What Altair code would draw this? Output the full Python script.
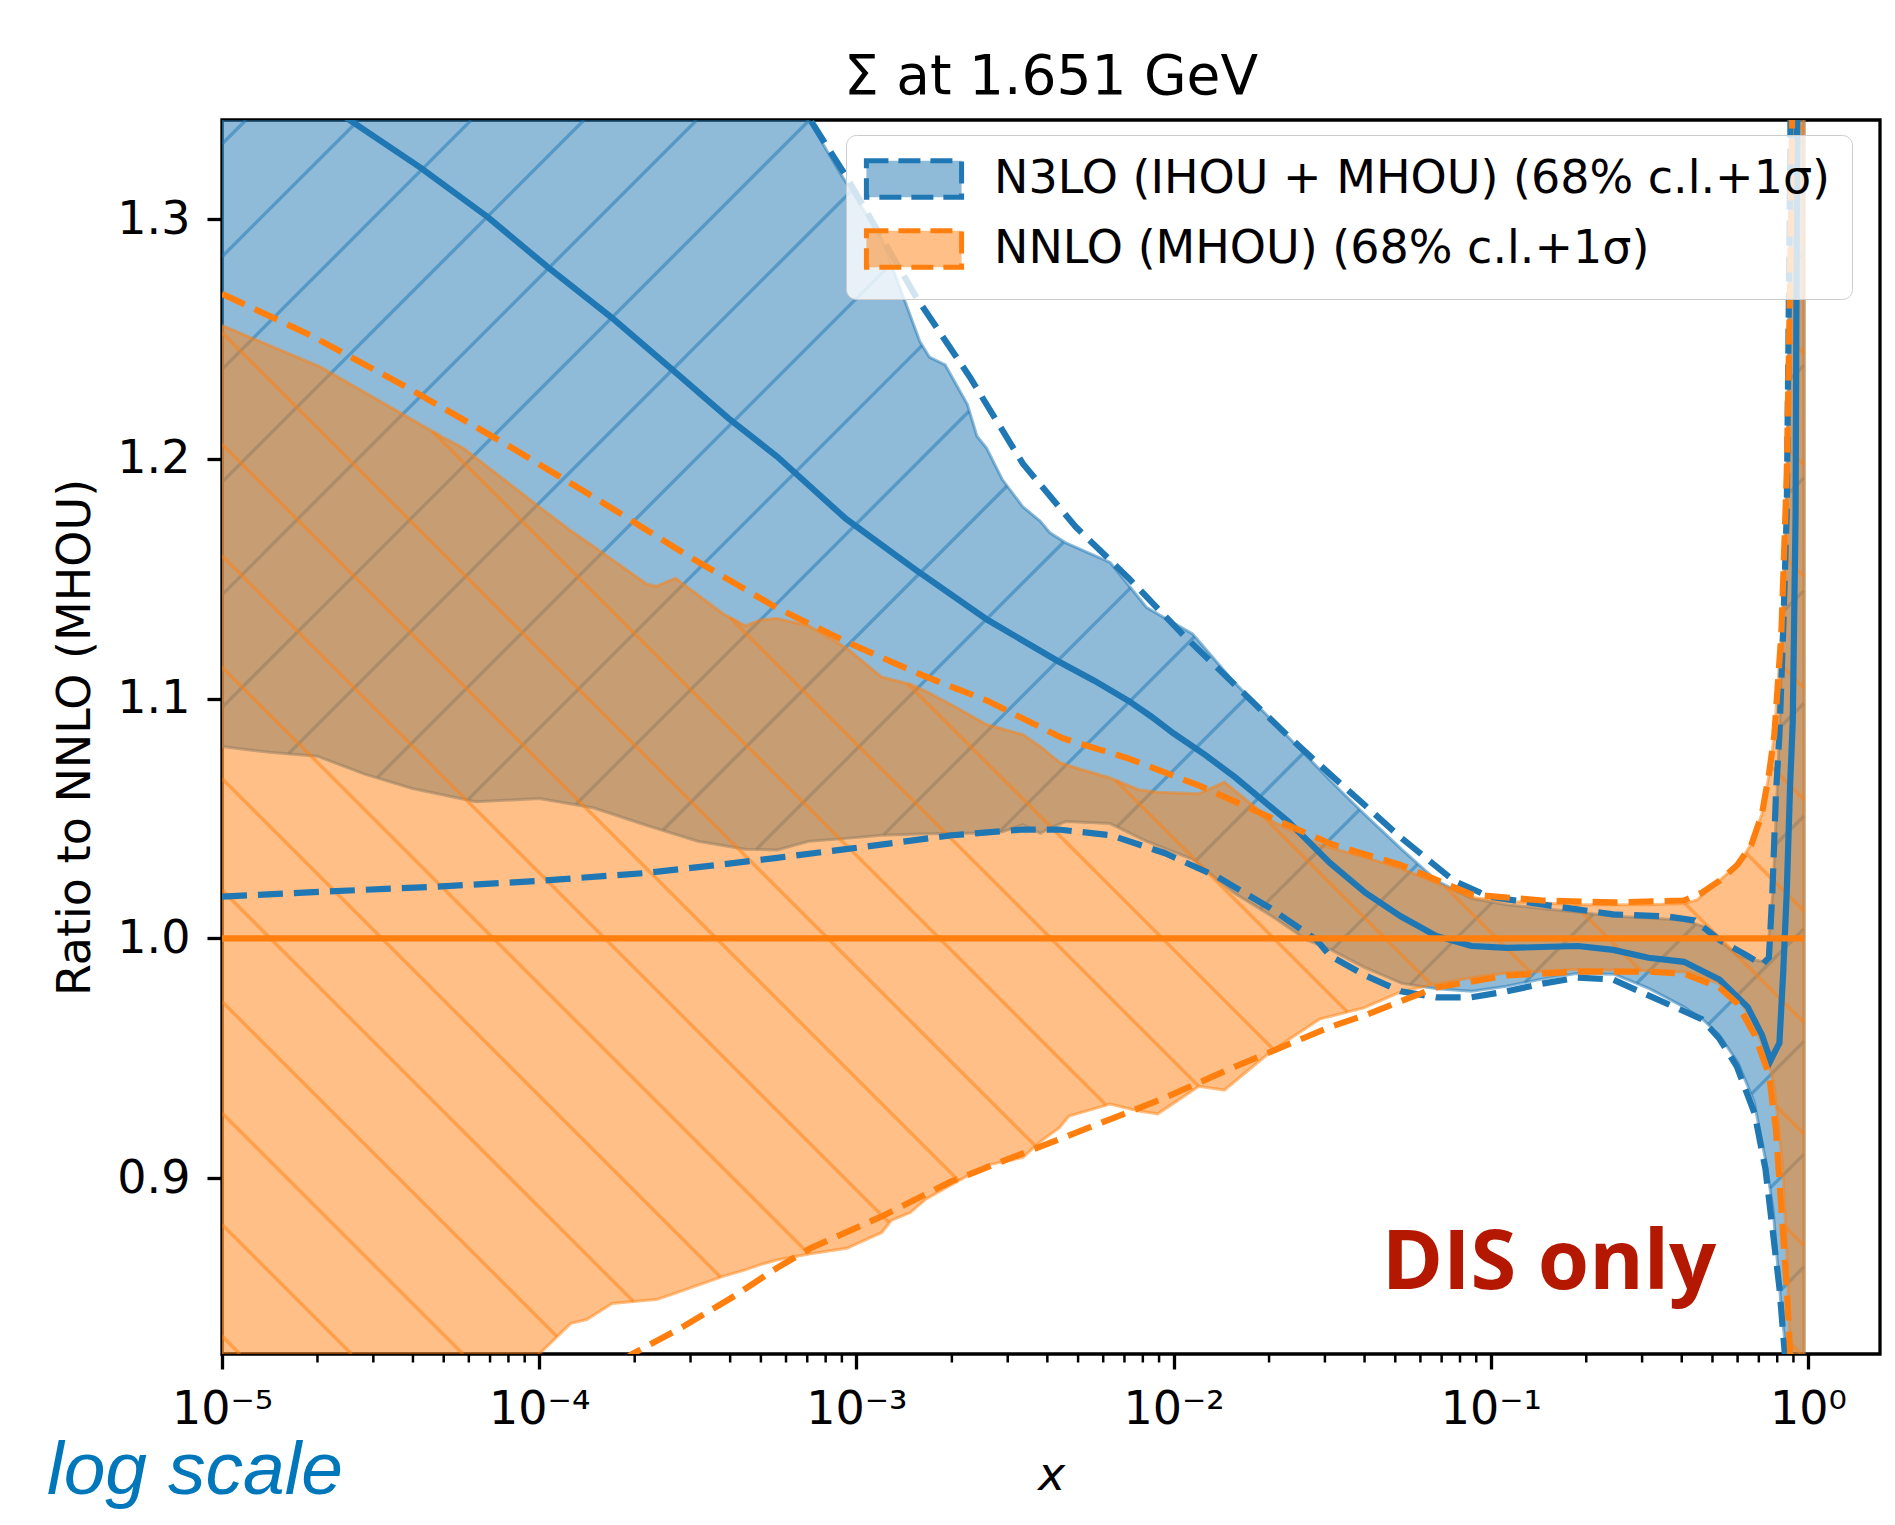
import numpy as np
import pandas as pd
import altair as alt

# ---------------- layout / axes ----------------
W, H = 1658, 1234
X_DOMAIN = [1e-5, 1.687]
Y_DOMAIN = [0.8266, 1.3414]

TITLE = "Σ at 1.651 GeV"
N3LO = "N3LO (IHOU + MHOU) (68% c.l.+1σ)"
NNLO = "NNLO (MHOU) (68% c.l.+1σ)"
BLUE = "#1f77b4"
ORANGE = "#ff7f0e"
BLUE_HALF = "rgba(31,119,180,0.5)"
ORANGE_HALF = "rgba(255,127,14,0.5)"

X_TICKS = [1e-5, 1e-4, 1e-3, 1e-2, 1e-1, 1.0]
X_TICK_LABELS = ["10⁻⁵", "10⁻⁴", "10⁻³", "10⁻²", "10⁻¹", "10⁰"]
Y_TICKS = [0.9, 1.0, 1.1, 1.2, 1.3]
MINOR_TICKS = [m * 10.0 ** e for e in range(-5, 0) for m in range(2, 10)]

# ---------------- data (x given as log10 x) ----------------
# N3LO band (68% c.l.) : log10 x, lower, upper
N3LO_LX = [-5.00, -4.85, -4.70, -4.55, -4.40, -4.20, -4.00, -3.83, -3.66, -3.50,
           -3.35, -3.25, -3.15, -3.05, -2.92, -2.80, -2.77, -2.72, -2.65, -2.62,
           -2.59, -2.54, -2.475, -2.42, -2.39, -2.34, -2.20, -2.085, -1.94, -1.81,
           -1.69, -1.58, -1.50, -1.40, -1.28, -1.17, -1.06, -0.95, -0.84, -0.73,
           -0.61, -0.50, -0.39, -0.33, -0.28, -0.22, -0.17, -0.13, -0.11, -0.09,
           -0.08, -0.065, -0.056, -0.045, -0.012]
N3LO_LO = [1.080, 1.0776, 1.0760, 1.0685, 1.0625, 1.0570, 1.0583, 1.0545, 1.0471, 1.0405,
           1.0372, 1.0369, 1.0405, 1.0415, 1.0430, 1.0435, 1.0436, 1.0437, 1.0438, 1.0438,
           1.0438, 1.0445, 1.0474, 1.0438, 1.0460, 1.0487, 1.0479, 1.0405, 1.0330, 1.0190,
           1.0092, 0.9993, 0.9950, 0.9880, 0.9812, 0.9790, 0.9779, 0.9800, 0.9830, 0.9853,
           0.9850, 0.9790, 0.9713, 0.9660, 0.9597, 0.9480, 0.9320, 0.9050, 0.8870, 0.8550,
           0.8400, 0.8250, 0.8000, 0.7000, 0.7000]
N3LO_HI = [1.62, 1.59, 1.56, 1.53, 1.50, 1.47, 1.44, 1.41, 1.39, 1.37,
           1.355, 1.347, 1.3414, 1.319, 1.292, 1.249, 1.2425, 1.2392, 1.2227, 1.2095,
           1.2046, 1.1914, 1.1800, 1.1740, 1.1692, 1.1650, 1.1568, 1.1380, 1.1270, 1.1070,
           1.0910, 1.0760, 1.0650, 1.0520, 1.0370, 1.0240, 1.0166, 1.0140, 1.0125, 1.0110,
           1.0092, 1.0085, 1.0075, 1.0050, 0.9993, 0.9927, 0.9910, 0.9900, 1.0200, 1.0850,
           1.1300, 1.2000, 1.3300, 1.5000, 1.5000]

# NNLO band (68% c.l.)
NNLO_LX = [-5.00, -4.69, -4.31, -4.24, -4.00, -3.90, -3.85, -3.77, -3.66, -3.63,
           -3.57, -3.42, -3.35, -3.30, -3.25, -3.15, -3.03, -2.92, -2.89, -2.83,
           -2.78, -2.68, -2.59, -2.475, -2.42, -2.36, -2.33, -2.20, -2.11, -2.05,
           -1.92, -1.84, -1.69, -1.54, -1.40, -1.28, -1.17, -1.06, -0.95, -0.73,
           -0.50, -0.39, -0.35, -0.28, -0.22, -0.18, -0.145, -0.123, -0.106, -0.090,
           -0.080, -0.067, -0.056, -0.050, -0.040, -0.012]
NNLO_LO = [0.700, 0.730, 0.770, 0.780, 0.8266, 0.8394, 0.8410, 0.8477, 0.8490, 0.8493,
           0.8520, 0.8590, 0.8617, 0.8640, 0.8658, 0.8683, 0.8707, 0.8773, 0.8823, 0.8856,
           0.8913, 0.8987, 0.9053, 0.9086, 0.9152, 0.9210, 0.9259, 0.9309, 0.9280, 0.9268,
           0.9383, 0.9367, 0.9531, 0.9663, 0.9710, 0.9779, 0.9810, 0.9836, 0.9855, 0.9870,
           0.9865, 0.9860, 0.9850, 0.9810, 0.9760, 0.9660, 0.9560, 0.9480, 0.9380, 0.9180,
           0.9050, 0.8700, 0.8266, 0.8000, 0.7000, 0.7000]
NNLO_HI = [1.2557, 1.2384, 1.2095, 1.2046, 1.1800, 1.1700, 1.1655, 1.1580, 1.1477, 1.1469,
           1.1502, 1.1354, 1.1304, 1.1329, 1.1334, 1.1304, 1.1210, 1.1090, 1.1080, 1.1060,
           1.1030, 1.0960, 1.0892, 1.0850, 1.0800, 1.0735, 1.0720, 1.0669, 1.0620, 1.0610,
           1.0603, 1.0652, 1.0490, 1.0390, 1.0340, 1.0290, 1.0230, 1.0170, 1.0155, 1.0140,
           1.0140, 1.0145, 1.0160, 1.0240, 1.0310, 1.0390, 1.0520, 1.0680, 1.0850, 1.1150,
           1.1350, 1.1900, 1.2700, 1.3400, 1.4500, 1.4500]

# N3LO central value
N3LO_C_LX = [-5.0, -4.598, -4.375, -4.163, -3.973, -3.772, -3.583, -3.404, -3.25, -3.033,
             -2.81, -2.587, -2.364, -2.25, -2.141, -2.07, -2.0, -1.9, -1.806, -1.638,
             -1.507, -1.395, -1.284, -1.172, -1.061, -0.949, -0.726, -0.614, -0.503, -0.391,
             -0.279, -0.19, -0.145, -0.118, -0.09, -0.078, -0.067, -0.056, -0.048, -0.039,
             -0.034, -0.030]
N3LO_C = [1.377, 1.3414, 1.3216, 1.301, 1.280, 1.259, 1.2376, 1.217, 1.201, 1.175,
          1.1535, 1.1329, 1.1156, 1.1075, 1.0990, 1.0925, 1.0855, 1.0765, 1.0672, 1.0487,
          1.0315, 1.019, 1.0092, 1.001, 0.9968, 0.996, 0.9968, 0.9952, 0.9919, 0.9902,
          0.9828, 0.9713, 0.9597, 0.949, 0.9564, 0.986, 1.019, 1.065, 1.09, 1.177,
          1.341, 1.42]

# N3LO 1-sigma (dashed)
N3LO_UP_LX = [-5.0, -4.5, -4.0, -3.5, -3.145, -3.033, -2.81, -2.643, -2.475, -2.308,
              -2.141, -1.973, -1.806, -1.638, -1.507, -1.395, -1.284, -1.116, -1.005, -0.837,
              -0.614, -0.447, -0.357, -0.279, -0.19, -0.145, -0.123, -0.112, -0.101, -0.09,
              -0.0785, -0.067, -0.062, -0.056, -0.05]
N3LO_UP = [1.70, 1.60, 1.50, 1.40, 1.3414, 1.318, 1.2672, 1.2343, 1.198, 1.1716,
           1.1502, 1.127, 1.1057, 1.0843, 1.0685, 1.0553, 1.0421, 1.024, 1.0174, 1.0141,
           1.010, 1.0092, 1.0075, 0.9993, 0.9927, 0.989, 0.992, 1.02, 1.06, 1.085,
           1.127, 1.177, 1.243, 1.325, 1.45]
N3LO_DN_LX = [-5.0, -4.665, -4.33, -3.996, -3.661, -3.438, -3.25, -3.033, -2.699, -2.475,
              -2.364, -2.197, -2.029, -1.862, -1.694, -1.549, -1.507, -1.395, -1.284, -1.172,
              -1.061, -0.949, -0.837, -0.726, -0.614, -0.503, -0.391, -0.335, -0.279, -0.224,
              -0.168, -0.134, -0.112, -0.09, -0.073, -0.06]
N3LO_DN = [1.0174, 1.0196, 1.0215, 1.024, 1.0273, 1.0306, 1.0336, 1.0372, 1.043, 1.0454,
           1.0454, 1.043, 1.0356, 1.0257, 1.0125, 0.9993, 0.9927, 0.9845, 0.9779, 0.9754,
           0.9754, 0.9779, 0.9811, 0.9836, 0.9828, 0.9762, 0.9696, 0.9663, 0.9581, 0.9465,
           0.9268, 0.9037, 0.879, 0.8542, 0.8266, 0.78]

# NNLO central value (ratio to itself) and 1-sigma (dashed)
NNLO_C_LX = [-5.0, -0.012]
NNLO_C = [1.0, 1.0]
NNLO_UP_LX = [-5.0, -4.721, -4.409, -4.107, -3.806, -3.516, -3.25, -3.033, -2.81, -2.587,
              -2.35, -2.141, -1.917, -1.694, -1.507, -1.284, -1.061, -0.837, -0.614, -0.391,
              -0.335, -0.279, -0.223, -0.179, -0.145, -0.123, -0.106, -0.084, -0.067, -0.056,
              -0.05, -0.045]
NNLO_UP = [1.2689, 1.2516, 1.2293, 1.2063, 1.1823, 1.1584, 1.1378, 1.1238, 1.1107, 1.0991,
           1.0835, 1.075, 1.0636, 1.0504, 1.0395, 1.0306, 1.0183, 1.0158, 1.015, 1.0158,
           1.019, 1.024, 1.0306, 1.0388, 1.052, 1.0685, 1.085, 1.127, 1.193, 1.276,
           1.341, 1.40]
NNLO_DN_LX = [-5.0, -4.5, -4.0, -3.706, -3.549, -3.382, -3.25, -3.145, -2.922, -2.699,
              -2.475, -2.252, -2.029, -1.806, -1.507, -1.395, -1.172, -0.949, -0.726, -0.503,
              -0.391, -0.279, -0.224, -0.168, -0.123, -0.101, -0.084, -0.067, -0.056, -0.05]
NNLO_DN = [0.72, 0.76, 0.80, 0.8266, 0.8378, 0.851, 0.8625, 0.8707, 0.8839, 0.8987,
           0.9103, 0.9218, 0.9334, 0.9465, 0.963, 0.968, 0.9795, 0.9845, 0.9861, 0.9861,
           0.9853, 0.9795, 0.9729, 0.9597, 0.9432, 0.9202, 0.8872, 0.8542, 0.8266, 0.80]


# ---------------- helpers ----------------
def to_x(lx):
    return [10.0 ** v for v in lx]


def line_df(lx, y):
    return pd.DataFrame({"x": to_x(lx), "y": y})


def dashed_df(up_lx, up, dn_lx, dn, name):
    a = pd.DataFrame({"x": to_x(up_lx), "y": up, "which": "up"})
    b = pd.DataFrame({"x": to_x(dn_lx), "y": dn, "which": "dn"})
    d = pd.concat([a, b], ignore_index=True)
    d["series"] = name
    return d


def band_df(lx, lo, hi, name):
    return pd.DataFrame({"x": to_x(lx), "lo": lo, "hi": hi, "series": name})


def outline_df(lx, lo, hi):
    xs = to_x(lx)
    xx = xs + xs[::-1] + [xs[0]]
    yy = list(hi) + list(lo)[::-1] + [hi[0]]
    return pd.DataFrame({"x": xx, "y": yy, "o": list(range(len(xx)))})


LX0, LX1 = np.log10(X_DOMAIN[0]), np.log10(X_DOMAIN[1])
Y0, Y1 = Y_DOMAIN


def hatch_df(lx, lo, hi, k0, step, sign):
    """Diagonal hatch segments (45 deg in screen space) clipped to the band."""
    bu = (np.asarray(lx) - LX0) / (LX1 - LX0) * W
    lov = (np.asarray(lo) - Y0) / (Y1 - Y0) * H
    hiv = (np.asarray(hi) - Y0) / (Y1 - Y0) * H
    us = np.arange(0.0, W + 0.001, 0.5)
    lo_i = np.interp(us, bu, lov)
    hi_i = np.interp(us, bu, hiv)
    inband = (us >= bu[0]) & (us <= bu[-1])
    kmin, kmax = (-W, H) if sign > 0 else (0, W + H)
    n0 = int(np.floor((kmin - k0) / step))
    n1 = int(np.ceil((kmax - k0) / step))
    rows = []
    seg = 0
    for n in range(n0, n1 + 1):
        k = k0 + n * step
        v = sign * us + k
        ins = inband & (v >= 0) & (v <= H) & (v >= lo_i) & (v <= hi_i)
        d = np.diff(np.concatenate([[0], ins.astype(int), [0]]))
        starts = np.flatnonzero(d == 1)
        ends = np.flatnonzero(d == -1) - 1
        for s, e in zip(starts, ends):
            if e - s < 2:
                continue
            for i in (s, e):
                rows.append({
                    "x": 10.0 ** (LX0 + us[i] / W * (LX1 - LX0)),
                    "y": Y0 + v[i] / H * (Y1 - Y0),
                    "seg": seg,
                })
            seg += 1
    return pd.DataFrame(rows)


# ---------------- scales / axes ----------------
x_scale = alt.Scale(type="log", domain=X_DOMAIN, nice=False)
y_scale = alt.Scale(domain=Y_DOMAIN, nice=False, zero=False)

label_expr = "'" + X_TICK_LABELS[-1] + "'"
for t, lab in reversed(list(zip(X_TICKS[:-1], X_TICK_LABELS[:-1]))):
    label_expr = f"datum.value < {t * 3:.6g} ? '{lab}' : ({label_expr})"

x_axis = alt.Axis(
    values=X_TICKS, labelExpr=label_expr, title="x",
    titleFont="DejaVu Sans", titleFontStyle="italic", titleFontSize=46,
    titleFontWeight="normal", titleColor="black", titleY=135, titleBaseline="alphabetic",
    labelFont="DejaVu Sans", labelFontSize=46, labelColor="black",
    labelBaseline="alphabetic", labelPadding=54, labelFlush=False, labelOverlap=False,
    tickSize=15, tickWidth=3.3, tickColor="black", domain=False, grid=False,
)
y_axis = alt.Axis(
    values=Y_TICKS, format=".1f", title="Ratio to NNLO (MHOU)",
    titleFont="DejaVu Sans", titleFontSize=46, titleFontWeight="normal", titleColor="black",
    titleAngle=270, titleX=-133, titleY=H / 2, titleBaseline="alphabetic", titleAlign="center",
    labelFont="DejaVu Sans", labelFontSize=46, labelColor="black", labelPadding=17,
    labelBaseline="middle", tickSize=15, tickWidth=3.3, tickColor="black",
    domain=False, grid=False,
)


def X(field="x"):
    return alt.X(f"{field}:Q", scale=x_scale, axis=x_axis)


def Y(field="y"):
    return alt.Y(f"{field}:Q", scale=y_scale, axis=y_axis)


legend = alt.Legend(
    title=None, orient="none", legendX=624, legendY=15,
    symbolType="M-2.6,-1H2.6V1H-2.6Z", symbolSize=1340,
    symbolStrokeWidth=5, symbolDash=[22, 10], symbolOpacity=1,
    labelFont="DejaVu Sans", labelFontSize=46, labelColor="black", labelLimit=3000,
    labelOffset=57, symbolOffset=24, rowPadding=12, padding=21,
    fillColor="rgba(255,255,255,0.8)", strokeColor="#cccccc", cornerRadius=10,
)
fill_enc = alt.Fill("series:N",
                    scale=alt.Scale(domain=[N3LO, NNLO], range=[BLUE_HALF, ORANGE_HALF]),
                    legend=legend)
stroke_enc = alt.Stroke("series:N",
                        scale=alt.Scale(domain=[N3LO, NNLO], range=[BLUE, ORANGE]),
                        legend=legend)

# ---------------- layers ----------------
layers = []


def band_layers(lx, lo, hi, name, col, k0, step, sign):
    out = []
    out.append(
        alt.Chart(band_df(lx, lo, hi, name)).mark_area(clip=True)
        .encode(x=X(), y=Y("lo"), y2="hi:Q", fill=fill_enc)
    )
    out.append(
        alt.Chart(hatch_df(lx, lo, hi, k0, step, sign))
        .mark_line(color=col, opacity=0.5, strokeWidth=3.4, clip=True)
        .encode(x=X(), y=Y(), detail="seg:N")
    )
    out.append(
        alt.Chart(outline_df(lx, lo, hi))
        .mark_line(color=col, opacity=0.5, strokeWidth=3, clip=True)
        .encode(x=X(), y=Y(), order="o:Q")
    )
    return out


layers += band_layers(N3LO_LX, N3LO_LO, N3LO_HI, N3LO, BLUE, 1210.0, 112.7, 1)
layers += band_layers(NNLO_LX, NNLO_LO, NNLO_HI, NNLO, ORANGE, 575.5, 111.5, -1)

DASH = [25, 11]
LW = 6.2
# N3LO central + dashed
layers.append(alt.Chart(line_df(N3LO_C_LX, N3LO_C))
              .mark_line(color=BLUE, strokeWidth=LW, clip=True).encode(x=X(), y=Y()))
layers.append(alt.Chart(dashed_df(N3LO_UP_LX, N3LO_UP, N3LO_DN_LX, N3LO_DN, N3LO))
              .mark_line(strokeWidth=LW, strokeDash=DASH, clip=True)
              .encode(x=X(), y=Y(), stroke=stroke_enc, detail="which:N"))
# NNLO central + dashed
layers.append(alt.Chart(line_df(NNLO_C_LX, NNLO_C))
              .mark_line(color=ORANGE, strokeWidth=LW, clip=True).encode(x=X(), y=Y()))
layers.append(alt.Chart(dashed_df(NNLO_UP_LX, NNLO_UP, NNLO_DN_LX, NNLO_DN, NNLO))
              .mark_line(strokeWidth=LW, strokeDash=DASH, clip=True)
              .encode(x=X(), y=Y(), stroke=stroke_enc, detail="which:N"))

# minor ticks of the log axis
layers.append(
    alt.Chart(pd.DataFrame({"x": MINOR_TICKS}))
    .mark_rule(color="black", strokeWidth=2.5)
    .encode(x=X(), y=alt.value(H), y2=alt.value(H + 8.5))
)

# title and annotations
layers.append(
    alt.Chart(pd.DataFrame({"t": [TITLE]}))
    .mark_text(font="DejaVu Sans", fontSize=55, color="black",
               align="center", baseline="alphabetic")
    .encode(text="t:N", x=alt.value(W / 2), y=alt.value(-26))
)
layers.append(
    alt.Chart(pd.DataFrame({"t": ["DIS only"]}))
    .mark_text(font="Open Sans", fontWeight="bold", fontSize=83, color="#b41800",
               align="center", baseline="alphabetic")
    .encode(text="t:N", x=alt.value(1327), y=alt.value(1169))
)
layers.append(
    alt.Chart(pd.DataFrame({"t": ["log scale"]}))
    .mark_text(font="Liberation Sans", fontStyle="italic", fontSize=75, color="#0077bb",
               align="left", baseline="alphabetic")
    .encode(text="t:N", x=alt.value(-175), y=alt.value(1374))
)

chart = alt.layer(*layers).properties(
    width=W, height=H,
    autosize=alt.AutoSizeParams(type="none"),
    padding={"left": 214, "top": 112, "right": 7, "bottom": 163},
).configure(font="DejaVu Sans").configure_view(stroke="black", strokeWidth=3.3)

chart.save("out.html", embed_options={"renderer": "svg", "actions": False})
